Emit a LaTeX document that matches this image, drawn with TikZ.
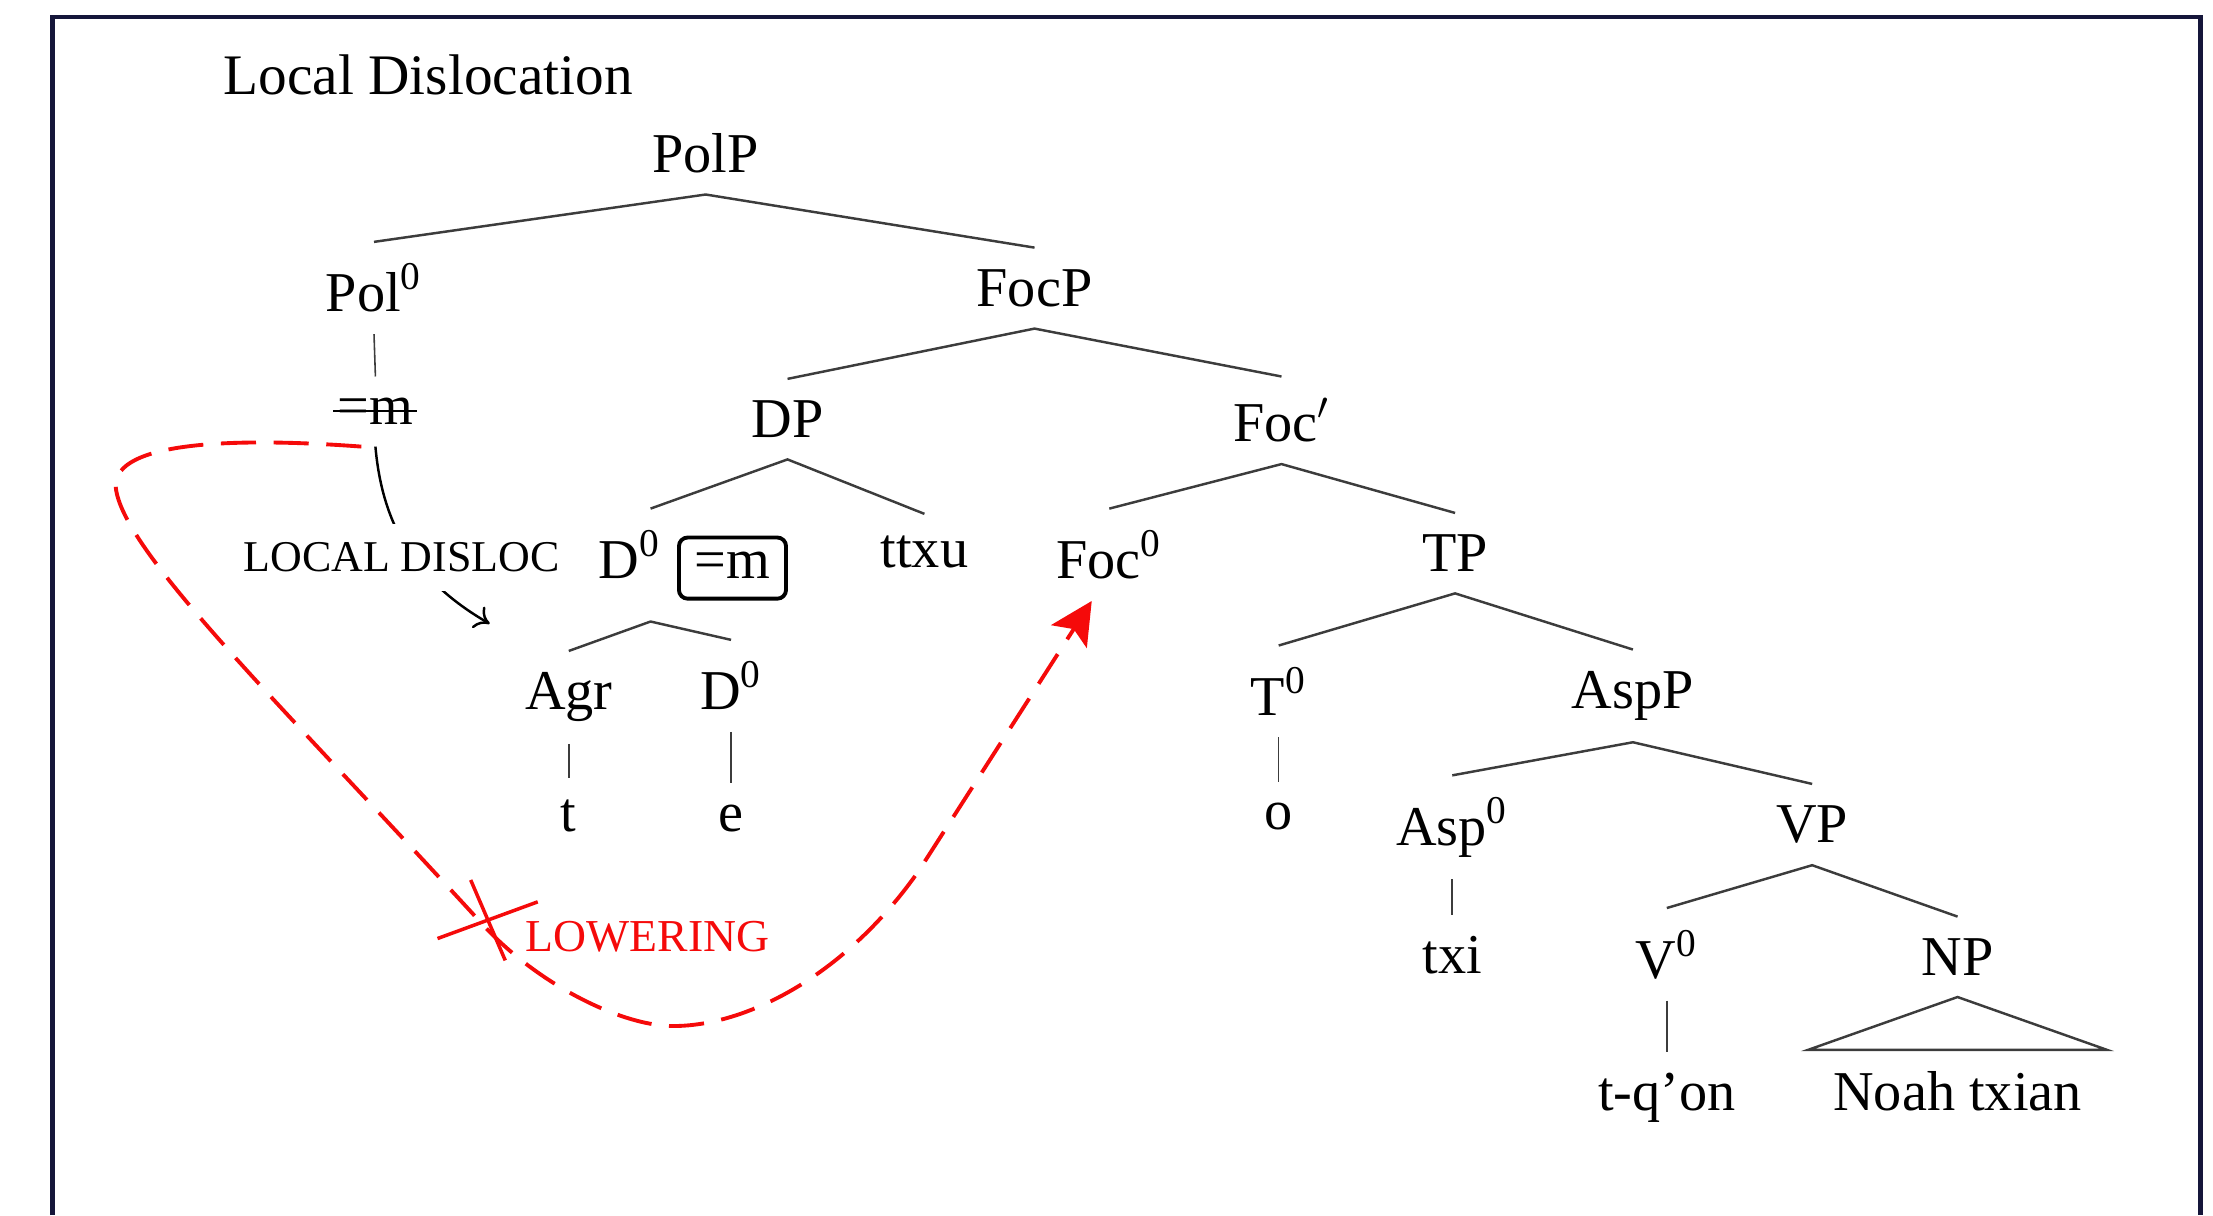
\documentclass[tikz,border=0pt]{standalone}
\usepackage{fontspec}
\setmainfont{Liberation Serif}
\usetikzlibrary{calc, arrows.meta}
\definecolor{framenavy}{HTML}{15163A}
\definecolor{lowerred}{HTML}{F50A0A}
\definecolor{branchgray}{HTML}{3C3C3C}
\newcommand{\supzero}{\textsuperscript{0}}

\tikzset{
  cat/.style={anchor=base, inner xsep=1pt, inner ysep=6pt},
  branch/.style={draw=branchgray, line width=0.7pt},
  stem/.style={draw=branchgray, line width=0.45pt},
  movelabel/.style={anchor=base west, inner xsep=0pt, font=\fontsize{12.5}{14}\selectfont},
  lowering/.style={draw=lowerred, line width=1.1pt, dash pattern=on 10pt off 5pt,
    -{Stealth[length=12pt,width=12pt,inset=2.5pt]}},
  clitic/.style={anchor=base, draw, rounded corners=2.5pt, line width=1.1pt,
    text height=7.5pt, text depth=1.5pt, inner xsep=4.5pt, inner ysep=4.2pt}
}

\begin{document}
\begin{tikzpicture}[x=0.1411mm, y=0.1411mm, font=\fontsize{16}{19}\selectfont]
  \useasboundingbox (0,0) rectangle (1568,-861);
  \draw[framenavy, line width=1.3pt] (37,-861) |- (1559,-12) -- (1559,-861);

  \node[anchor=base west, inner xsep=0pt, font=\fontsize{16.3}{19}\selectfont] (title) at (158,-67) {Local Dislocation};

  \node[cat] (polp) at (500,-122) {PolP};
  \node[cat] (pol) at (265,-221) {Pol\supzero};
  \node[cat] (focp) at (733,-217) {FocP};
  \node[cat] (eqm) at (266,-301) {=m};
  \node[cat] (dp) at (558,-310) {DP};
  \node[cat] (focbar) at (908,-313) {Foc$'$};
  \node[cat, text depth=6pt] (d) at (446,-410) {D\supzero};
  \node[clitic] (boxm) at (519,-410) {=m};
  \node[cat] (ttxu) at (655,-402) {ttxu};
  \node[cat] (foc) at (786,-410) {Foc\supzero};
  \node[cat] (tp) at (1031,-405) {TP};
  \node[cat] (agr) at (403,-503) {Agr};
  \node[cat] (dd) at (518,-503) {D\supzero};
  \node[cat] (tzero) at (906,-507) {T\supzero};
  \node[cat] (aspp) at (1157,-502) {AspP};
  \node[cat] (t) at (403,-589) {t};
  \node[cat] (e) at (518,-589) {e};
  \node[cat] (o) at (906,-588) {o};
  \node[cat] (asp) at (1029,-599) {Asp\supzero};
  \node[cat] (vp) at (1284,-597) {VP};
  \node[cat] (txi) at (1029,-690) {txi};
  \node[cat] (v) at (1181,-693) {V\supzero};
  \node[cat] (np) at (1387,-691) {NP};
  \node[cat] (tqon) at (1181,-787) {t-q’on};
  \node[cat, inner xsep=7pt] (noah) at (1387,-787) {Noah txian};

  \draw[branch] (pol.north) -- (polp.south) -- (focp.north);
  \draw[branch] (dp.north) -- (focp.south) -- (focbar.north);
  \draw[branch] ([xshift=6pt]d.north) -- (dp.south) -- (ttxu.north);
  \draw[branch] (foc.north) -- (focbar.south) -- (tp.north);
  \draw[branch] (agr.north) -- ([xshift=6pt]d.south) -- (dd.north);
  \draw[branch] (tzero.north) -- (tp.south) -- (aspp.north);
  \draw[branch] (asp.north) -- (aspp.south) -- (vp.north);
  \draw[branch] (v.north) -- (vp.south) -- (np.north);
  \draw[branch] (np.south) -- (noah.north west) -- (noah.north east) -- cycle;
  \draw[stem] (pol.south) -- (eqm.north);
  \draw[stem] (agr.south) -- (t.north);
  \draw[stem] (dd.south) -- (e.north);
  \draw[stem] (tzero.south) -- (o.north);
  \draw[stem] (asp.south) -- (txi.north);
  \draw[stem] (v.south) -- (tqon.north);

  \draw[line width=0.6pt] ($(eqm.base west)+(0,4pt)$) -- ($(eqm.base east)+(0,4pt)$);

  \coordinate (landing) at (347,-442);
  \draw[-{To[length=4pt,width=7pt]}, line width=0.7pt] (eqm.south) to[out=-85, in=150] (landing);
  \node[movelabel, fill=white, inner xsep=2pt, inner ysep=5.4pt] (disloc) at (167,-405) {LOCAL DISLOC};

  \draw[lowering] ([xshift=-4pt]eqm.south) .. controls (170,-310) and (80,-312) .. (82,-345)
    .. controls (86,-390) and (200,-500) .. (341,-654)
    .. controls (380,-697) and (440,-727) .. (477,-727)
    .. controls (530,-727) and (600,-690) .. (651,-617)
    -- ([xshift=-5pt]foc.south);
  \coordinate (blocked) at (345,-652);
  \draw[lowerred, line width=1pt] ($(blocked)+(-35,-13)$) -- ($(blocked)+(36,13)$)
    ($(blocked)+(-11.5,28.5)$) -- ($(blocked)+(13,-28.5)$);
  \node[movelabel, text=lowerred, font=\fontsize{13}{15}\selectfont] (lowerlbl) at (372,-674) {LOWERING};
\end{tikzpicture}
\end{document}
